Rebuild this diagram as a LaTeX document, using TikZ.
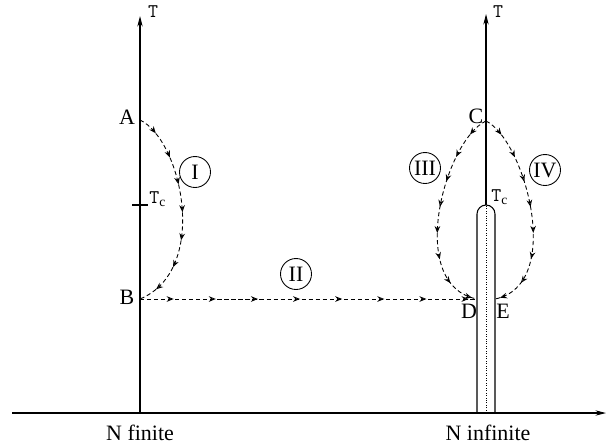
\documentclass[tikz,border=0pt]{standalone}
\usepackage{fontspec}
\setmainfont{Liberation Serif}
\usetikzlibrary{arrows.meta,decorations.markings}

\tikzset{
  flow/.style={line width=0.5pt, dash pattern=on 2.4pt off 1.6pt, postaction={decorate},
    decoration={markings, mark=between positions 0.1 and 1 step #1 with {\arrow{Stealth[open,length=4pt,width=3.2pt]}}}},
  regime/.style={draw, circle, line width=0.5pt, minimum size=0.62cm, inner sep=0pt, font=\fontsize{12.5}{14}\selectfont},
  pointlabel/.style={font=\fontsize{12.5}{14}\selectfont},
  tlabel/.style={font=\fontsize{11}{12}\ttfamily},
}

\begin{document}
\begin{tikzpicture}[x=0.02cm, y=-0.02cm, line width=0.6pt]
  \useasboundingbox (0,0) rectangle (608,447);
  % axes
  \coordinate (xstart) at (12,413);
  \coordinate (xend) at (606,413);
  \coordinate (L0) at (140,413);
  \coordinate (Ltop) at (140,16);
  \coordinate (R0) at (486,413);
  \coordinate (Rtc) at (486,205);
  \coordinate (Rtop) at (486,14);
  \draw[-{Stealth[length=6pt,width=3pt]}] (xstart) -- (xend);
  \draw[-{Stealth[length=6pt,width=3pt]}] (L0) -- (Ltop);
  \draw[-{Stealth[length=6pt,width=3pt]}] (Rtc) -- (Rtop);
  \draw[densely dotted, line width=0.4pt] (R0) -- (Rtc);
  \node[tlabel] (T1) at (153,12) {T};
  \node[tlabel] (T2) at (498,12) {T};
  % tube at N infinite
  \draw (477,413) -- (477,214) arc[start angle=180, end angle=360, radius=9] -- (495,413);
  % points
  \coordinate (A) at (140,120);
  \coordinate (B) at (140,299);
  \coordinate (C) at (486,121);
  \coordinate (D) at (477,299);
  \coordinate (E) at (495,299);
  \node[pointlabel] (lA) at (127,117) {A};
  \node[pointlabel] (lB) at (127,297) {B};
  \node[pointlabel] (lC) at (476,116) {C};
  \node[pointlabel] (lD) at (469,311) {D};
  \node[pointlabel] (lE) at (503,311) {E};
  % critical temperatures
  \draw (132,205) -- (148,205);
  \node[tlabel, anchor=west] (Tc1) at (143,199) {T$_{\mathrm{c}}$};
  \node[tlabel, anchor=west] (Tc2) at (485,197) {T$_{\mathrm{c}}$};
  % paths
  \draw[flow=0.135] (A) .. controls (182,140) and (210,270) .. (B);
  \draw[flow=0.125] (B) -- (D);
  \draw[flow=0.125] (C) .. controls (445,140) and (405,285) .. (D);
  \draw[flow=0.125] (C) .. controls (525,140) and (565,285) .. (E);
  \node[regime] (I) at (195,172) {I};
  \node[regime] (II) at (296,274) {II};
  \node[regime] (III) at (425,168) {III};
  \node[regime] (IV) at (545,170) {IV};
  % axis labels
  \node[pointlabel] (Nf) at (140,433) {N finite};
  \node[pointlabel] (Ni) at (488,433) {N infinite};
\end{tikzpicture}
\end{document}
